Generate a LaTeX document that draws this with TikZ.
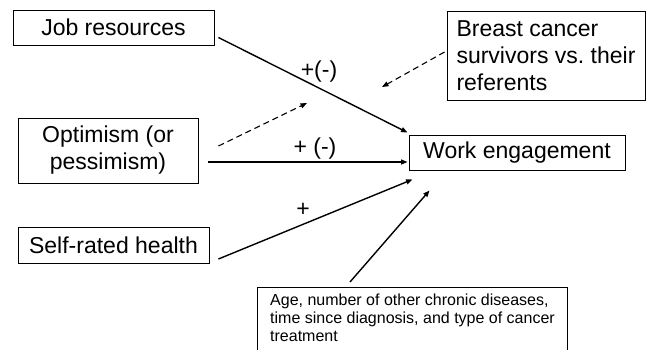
\documentclass[tikz,border=0pt]{standalone}
\usepackage{fontspec}
\setmainfont{Liberation Sans}
\usetikzlibrary{arrows.meta}
\frenchspacing
\begin{document}
\begin{tikzpicture}[x=1pt,y=-1pt,
  box/.style={draw,line width=0.9pt,font=\fontsize{23}{27}\selectfont,inner sep=0pt},
  link/.style={line width=1.4pt,-{Triangle[length=6.5pt,width=5pt]}},
  modarrow/.style={line width=1.1pt,dash pattern=on 6pt off 4pt,-{Triangle[length=6.5pt,width=5pt]}},
  sign/.style={font=\fontsize{23}{26}\selectfont,inner sep=0pt}]
\useasboundingbox (0,0) rectangle (649,349);
\clip (0,0) rectangle (649,349);
\fill[white] (0,0) rectangle (649,349);

\node[box,minimum width=201,minimum height=35] (job) at (113.5,27.5) {Job resources};
\node[box,minimum width=180,minimum height=65,align=center] (opt) at (108,150.5) {Optimism (or\\pessimism)};
\node[box,minimum width=191,minimum height=36] (self) at (113.5,245) {Self-rated health};
\node[box,minimum width=198,minimum height=89,align=left] (brc) at (546,55.5) {Breast cancer\\survivors vs. their\\referents};
\node[box,minimum width=216,minimum height=35] (work) at (517,152.5) {Work engagement};

\node[draw,line width=0.9pt,anchor=north west,minimum width=310,minimum height=80,inner sep=0pt] (covbox) at (257,287) {};
\node[anchor=north west,align=left,inner sep=0pt,font=\fontsize{16}{18}\selectfont] (cov) at (270,294)
  {Age, number of other chronic diseases,\\time since diagnosis, and type of cancer\\treatment};

\coordinate (m1) at (307,103);
\coordinate (m2) at (382,87);

\draw[link] ([shift={(4,10)}]job.east) -- ([shift={(-1,-2)}]work.north west);
\draw[link] ([shift={(10,11.5)}]opt.east) -- ([shift={(-1,9.5)}]work.west);
\draw[link] ([shift={(9,14)}]self.east) -- ([shift={(4,9)}]work.south west);
\draw[link] ([shift={(93,-5)}]covbox.north west) -- ([shift={(21,20)}]work.south west);
\draw[modarrow] ([shift={(20,-4.5)}]opt.east) -- (m1);
\draw[modarrow] ([shift={(-2,-3.5)}]brc.west) -- (m2);

\node[sign] (s1) at (319,72) {+(-)};
\node[sign] (s2) at (315,149) {+ (-)};
\node[sign] (s3) at (303,210) {+};
\end{tikzpicture}
\end{document}
